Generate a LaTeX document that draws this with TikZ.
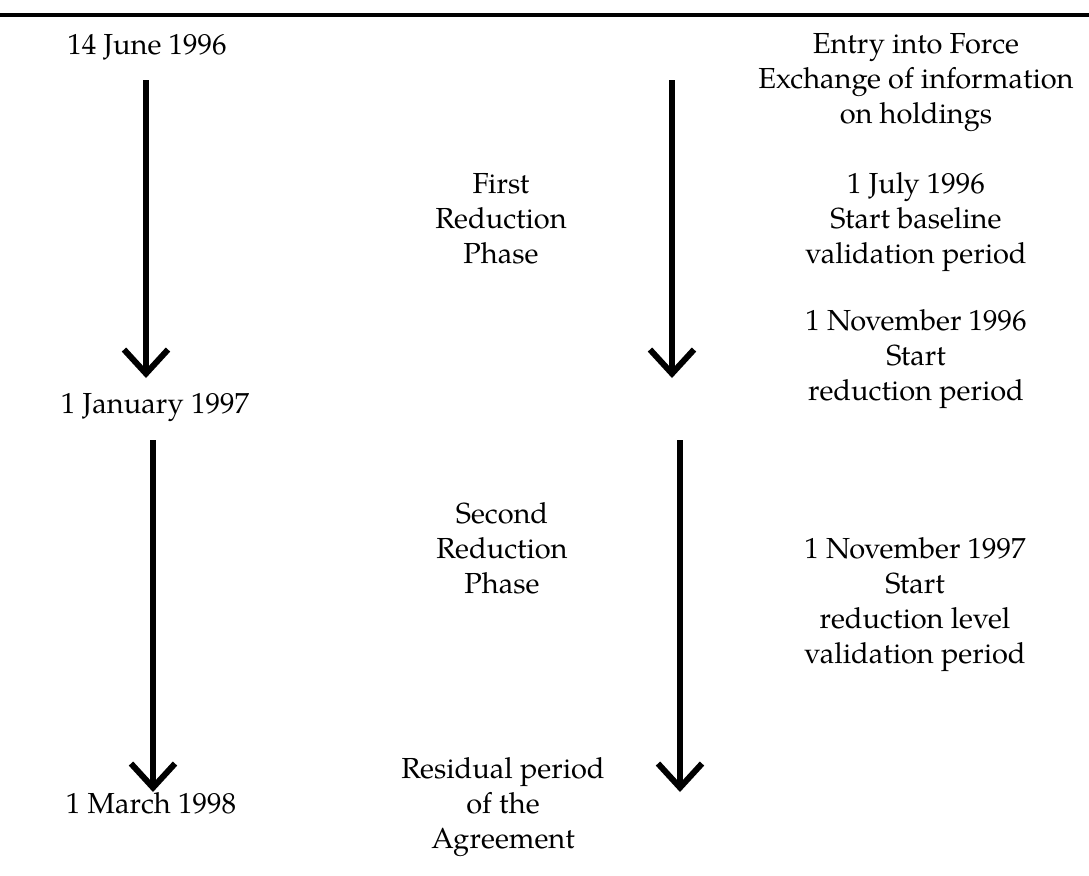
\documentclass[tikz,border=0pt]{standalone}
\usepackage{fontspec}
\setmainfont{TeX Gyre Pagella}
\usetikzlibrary{arrows.meta}

\tikzset{
  timeline/.style={line width=3pt, -{Straight Barb[sharp, length=12pt, width=22pt]}},
  phasetext/.style={align=center, anchor=base, inner sep=0pt,
    font=\fontsize{14.5}{17.5}\selectfont},
}

\begin{document}
\begin{tikzpicture}[x=0.5pt, y=-0.5pt]

  \useasboundingbox (0,0) rectangle (1089,875);

  % Rule across the top
  \coordinate (RL) at (0,15);
  \coordinate (RR) at (1089,15);
  \draw[line width=1.6pt] (RL) -- (RR);

  % Dates on the left (anchored at the baseline of the last line)
  \node[phasetext] (june)  at (147,54)  {14 June 1996};
  \node[phasetext] (jan)   at (155,413) {1 January 1997};
  \node[phasetext] (march) at (151,813) {1 March 1998};

  % Phases in the middle
  \node[phasetext] (first)    at (501,263) {First\\ Reduction\\ Phase};
  \node[phasetext] (second)   at (502,593) {Second\\ Reduction\\ Phase};
  \node[phasetext] (residual) at (503,848) {Residual period\\ of the\\ Agreement};

  % Events on the right
  \node[phasetext] (entry) at (916,123) {Entry into Force\\ Exchange of information\\ on holdings};
  \node[phasetext] (july)  at (916,263) {1 July 1996\\ Start baseline\\ validation period};
  \node[phasetext] (nov96) at (916,400) {1 November 1996\\ Start\\ reduction period};
  \node[phasetext] (nov97) at (915,663) {1 November 1997\\ Start\\ reduction level\\ validation period};

  % Arrow ends
  \coordinate (LA1) at (146,80);
  \coordinate (LB1) at (146,378);
  \coordinate (RA1) at (672,80);
  \coordinate (RB1) at (672,378);
  \coordinate (LA2) at (153,440);
  \coordinate (LB2) at (153,792);
  \coordinate (RA2) at (680,440);
  \coordinate (RB2) at (680,792);

  % First phase
  \draw[timeline] (LA1) -- (LB1);
  \draw[timeline] (RA1) -- (RB1);

  % Second phase
  \draw[timeline] (LA2) -- (LB2);
  \draw[timeline] (RA2) -- (RB2);

\end{tikzpicture}
\end{document}
